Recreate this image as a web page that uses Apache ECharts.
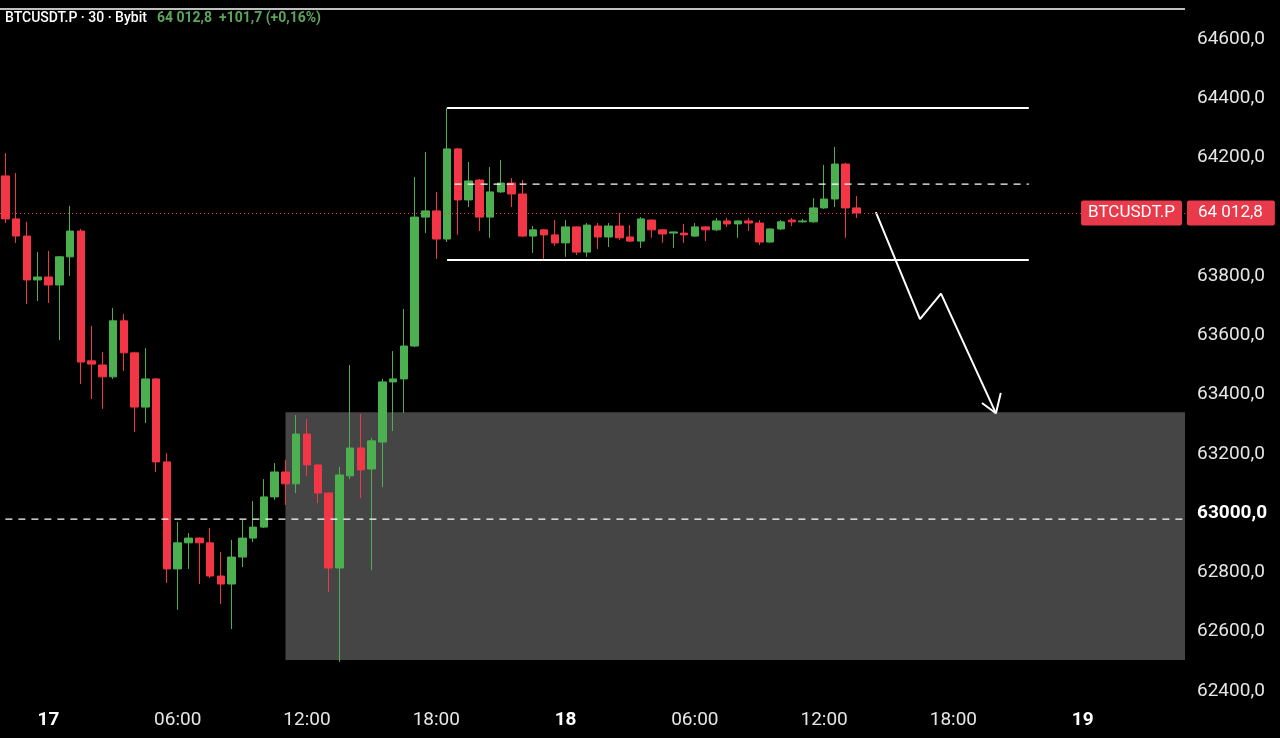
<!DOCTYPE html>
<html>
<head>
<meta charset="utf-8">
<script src="https://cdn.jsdelivr.net/npm/echarts@6/dist/echarts.min.js"></script>
<style>
html,body{margin:0;padding:0;background:#000;}
#c{width:1280px;height:738px;}
</style>
</head>
<body>
<div id="c"></div>
<script>
// ---- data ----
// candle rows: [open, close, low, high], 30-minute bars from 16 22:00
const candles = [
  [64138, 63993, 63979, 64215],
  [63993, 63935, 63912, 64148],
  [63935, 63787, 63706, 63983],
  [63787, 63797, 63716, 63881],
  [63797, 63770, 63709, 63885],
  [63770, 63865, 63584, 63868],
  [63865, 63952, 63800, 64037],
  [63952, 63510, 63436, 63959],
  [63514, 63503, 63385, 63632],
  [63500, 63460, 63352, 63544],
  [63460, 63649, 63453, 63692],
  [63649, 63541, 63480, 63672],
  [63541, 63358, 63274, 63545],
  [63358, 63453, 63304, 63557],
  [63453, 63173, 63139, 63456],
  [63173, 62812, 62765, 63203],
  [62812, 62900, 62674, 62970],
  [62900, 62916, 62812, 62933],
  [62916, 62900, 62761, 62918],
  [62900, 62788, 62781, 62950],
  [62788, 62761, 62694, 62869],
  [62761, 62852, 62609, 62910],
  [62852, 62916, 62818, 62977],
  [62916, 62953, 62903, 63041],
  [62953, 63055, 62950, 63115],
  [63055, 63139, 63045, 63169],
  [63139, 63099, 63028, 63180],
  [63099, 63267, 63068, 63331],
  [63267, 63163, 63126, 63318],
  [63163, 63068, 63034, 63165],
  [63068, 62815, 62734, 63070],
  [62815, 63129, 62498, 63156],
  [63126, 63220, 63115, 63500],
  [63220, 63146, 63051, 63335],
  [63149, 63244, 62808, 63254],
  [63240, 63443, 63088, 63453],
  [63443, 63453, 63277, 63547],
  [63453, 63564, 63338, 63689],
  [63564, 63999, 63560, 64134],
  [63999, 64020, 63945, 64219],
  [64020, 63925, 63858, 64084],
  [63925, 64229, 63915, 64367],
  [64229, 64057, 63939, 64232],
  [64057, 64121, 64033, 64185],
  [64124, 63999, 63952, 64128],
  [63999, 64084, 63929, 64168],
  [64084, 64114, 64081, 64192],
  [64114, 64077, 64033, 64131],
  [64077, 63935, 63932, 64124],
  [63935, 63956, 63878, 63969],
  [63956, 63939, 63858, 63958],
  [63939, 63912, 63902, 63989],
  [63912, 63966, 63865, 63989],
  [63966, 63881, 63871, 63968],
  [63881, 63972, 63865, 63979],
  [63969, 63932, 63891, 63979],
  [63932, 63969, 63898, 63979],
  [63969, 63929, 63922, 64013],
  [63932, 63918, 63915, 63972],
  [63918, 63993, 63895, 63999],
  [63989, 63956, 63929, 63991],
  [63956, 63942, 63912, 63958],
  [63945, 63949, 63895, 63950],
  [63945, 63939, 63912, 63976],
  [63935, 63966, 63932, 63979],
  [63966, 63956, 63918, 63968],
  [63956, 63986, 63952, 63996],
  [63986, 63976, 63966, 63996],
  [63976, 63986, 63929, 63988],
  [63986, 63979, 63952, 63996],
  [63979, 63915, 63905, 63989],
  [63915, 63959, 63912, 63961],
  [63959, 63983, 63956, 63989],
  [63989, 63983, 63969, 63996],
  [63983, 63986, 63980, 63993],
  [63983, 64030, 63980, 64063],
  [64030, 64060, 64027, 64175],
  [64060, 64178, 64033, 64236],
  [64178, 64030, 63929, 64182],
  [64030, 64012.8, 63996, 64070]
];

// time categories (30-minute slots, including empty future slots)
const startDay = 16;
const startMinute = 22 * 60;
const slotCount = 110;
const categories = [];
for (let i = 0; i < slotCount; i++) {
  const t = startMinute + 30 * i;
  const d = startDay + Math.floor(t / 1440);
  const m = t % 1440;
  const hh = String(Math.floor(m / 60)).padStart(2, '0');
  const mm = String(m % 60).padStart(2, '0');
  categories.push(d + ' ' + hh + ':' + mm);
}

const lastPrice = 64012.8;
const lastPriceText = '64 012,8';
const symbolName = 'BTCUSDT.P';
const headerTitle = 'BTCUSDT.P · 30 · Bybit';
const headerQuote = '64 012,8  +101,7 (+0,16%)';

// drawings (price levels and slot positions)
const topLineLevel = 64701;
const rangeTopLevel = 64367;
const rangeMidLevel = 64110;
const rangeBottomLevel = 63854;
const rangeStartSlot = 41;
const rangeMidStartSlot = 41.7;
const rangeEndSlot = 95;
const dashedLevel = 62980;
const zoneTop = 63341;
const zoneBottom = 62505;
const zoneStartSlot = 26;
const arrowPoints = [[80.8, 64016], [84.9, 63655], [86.85, 63741], [91.95, 63337]];
const arrowHeadPoints = [[90.65, 63372], [91.95, 63337], [92.4, 63406]];

const UP = '#4caf50';
const DOWN = '#f23645';
const FONT = 'Roboto, "Noto Sans", sans-serif';

function fmtPrice(v) {
  return v.toFixed(1).replace('.', ',');
}

const chart = echarts.init(document.getElementById('c'));

const lastSlot = slotCount - 0.5;

function hLine(name, y, x0, x1, style) {
  return {
    name: name, type: 'line', xAxisIndex: 1, yAxisIndex: 0,
    data: [[x0, y], [x1, y]], showSymbol: false, symbol: 'none',
    silent: true, z: 4, lineStyle: style
  };
}

const option = {
  backgroundColor: '#000',
  animation: false,
  title: {
    left: 5, top: 9, padding: 0,
    text: '{w|' + headerTitle + '}  {g|' + headerQuote + '}',
    textStyle: {
      rich: {
        w: { color: '#ffffff', fontSize: 14, fontFamily: FONT, fontWeight: 500 },
        g: { color: '#5da55d', fontSize: 14, fontFamily: FONT }
      }
    }
  },
  grid: {
    left: 0, right: 95, top: -20.3, height: 770.6,
    containLabel: false, outerBoundsMode: 'none'
  },
  xAxis: [
    {
      type: 'category', data: categories, boundaryGap: true,
      offset: -46,
      axisLine: { show: false }, axisTick: { show: false }, splitLine: { show: false },
      axisLabel: {
        color: '#e6e6e6', fontSize: 19, fontFamily: FONT, margin: 6,
        interval: function (idx, value) {
          const hm = value.split(' ')[1];
          return hm === '00:00' || hm === '06:00' || hm === '12:00' || hm === '18:00';
        },
        formatter: function (value) {
          const parts = value.split(' ');
          if (parts[1] === '00:00') return '{d|' + parts[0] + '}';
          return parts[1];
        },
        rich: { d: { fontWeight: 'bold', fontSize: 19, color: '#ffffff', fontFamily: FONT } }
      }
    },
    {
      type: 'value', min: -0.5, max: lastSlot, show: false
    }
  ],
  yAxis: {
    type: 'value', position: 'right', min: 62200, max: 64800, interval: 200,
    axisLine: { show: false }, axisTick: { show: false }, splitLine: { show: false },
    axisLabel: {
      color: '#e6e6e6', fontSize: 19, fontFamily: FONT, margin: 12,
      formatter: function (v) {
        if (v === 64000) return '';
        if (v === 63000) return '{b|' + fmtPrice(v) + '}';
        return fmtPrice(v);
      },
      rich: { b: { fontWeight: 'bold', color: '#ffffff', fontSize: 19, fontFamily: FONT } }
    }
  },
  series: [
    {
      name: 'zone', type: 'line', xAxisIndex: 1, yAxisIndex: 0, data: [], z: 1, silent: true,
      markArea: {
        silent: true,
        itemStyle: { color: '#454545' },
        data: [[{ xAxis: zoneStartSlot, yAxis: zoneTop }, { xAxis: lastSlot, yAxis: zoneBottom }]]
      }
    },
    hLine('level', dashedLevel, 0, lastSlot, { color: '#ffffff', width: 1.3, type: [7, 6] }),
    {
      name: 'BTCUSDT.P', type: 'candlestick', xAxisIndex: 0, yAxisIndex: 0,
      data: candles, barWidth: 8, z: 3,
      itemStyle: { color: UP, color0: DOWN, borderColor: UP, borderColor0: DOWN, borderWidth: 1 },
      markLine: {
        silent: true, symbol: ['none', 'none'], animation: false,
        lineStyle: { color: 'rgba(242,54,69,0.75)', width: 1, type: [1, 3] },
        data: [
          {
            yAxis: lastPrice,
            label: {
              show: true, position: 'end', distance: 2,
              formatter: lastPriceText,
              color: '#ffffff', fontSize: 17, fontFamily: FONT, lineHeight: 17,
              backgroundColor: '#e83a4a', padding: [4, 12, 4, 11], borderRadius: 2
            }
          },
          {
            yAxis: lastPrice,
            label: {
              show: true, position: 'insideEnd', distance: 3,
              formatter: symbolName,
              color: '#ffffff', fontSize: 17, fontFamily: FONT, lineHeight: 17,
              backgroundColor: '#e83a4a', padding: [4, 7, 4, 7], borderRadius: 2
            }
          }
        ]
      }
    },
    hLine('top', topLineLevel, -0.5, lastSlot, { color: '#ffffff', width: 1.5 }),
    hLine('rangeTop', rangeTopLevel, rangeStartSlot, rangeEndSlot, { color: '#ffffff', width: 2 }),
    hLine('rangeBottom', rangeBottomLevel, rangeStartSlot, rangeEndSlot, { color: '#ffffff', width: 2 }),
    hLine('rangeMid', rangeMidLevel, rangeMidStartSlot, rangeEndSlot, { color: '#ffffff', width: 1.3, type: [7, 6] }),
    {
      name: 'arrow', type: 'line', xAxisIndex: 1, yAxisIndex: 0, data: arrowPoints,
      showSymbol: false, symbol: 'none', silent: true, z: 4,
      lineStyle: { color: '#ffffff', width: 2 }
    },
    {
      name: 'arrowHead', type: 'line', xAxisIndex: 1, yAxisIndex: 0, data: arrowHeadPoints,
      showSymbol: false, symbol: 'none', silent: true, z: 4,
      lineStyle: { color: '#ffffff', width: 2 }
    }
  ]
};

chart.setOption(option);
</script>
</body>
</html>
